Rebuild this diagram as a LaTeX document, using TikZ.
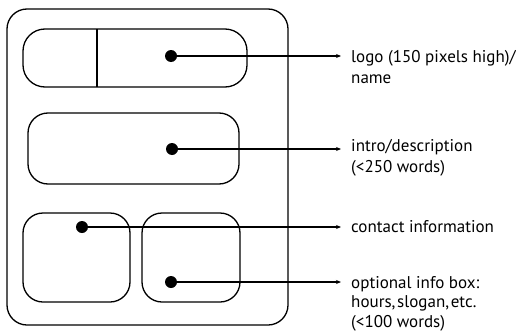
\documentclass[tikz,border=0pt]{standalone}
\usepackage{fontspec}
\setmainfont{PT Sans}
\usetikzlibrary{arrows.meta}
\begin{document}
\begin{tikzpicture}[x=1pt,y=-1pt,
  box/.style={draw, line width=1.3pt, rounded corners=#1, inner sep=0pt},
  dot/.style={circle, fill=black, minimum size=12pt, inner sep=0pt},
  conn/.style={line width=1.2pt, -{Stealth[length=5pt,width=4pt]}},
  lbl/.style={anchor=base west, align=left, inner sep=0pt, font=\fontsize{17}{21}\selectfont}]
\useasboundingbox (0,0) rectangle (516,332);
% outer
\node[box=20pt, minimum width=281pt, minimum height=316pt] (outer) at (147.5,167) {};
% top box
\node[box=22pt, minimum width=224pt, minimum height=58pt] (logo) at (135,58) {};
\draw[line width=1.3pt] (97,29) -- (97,87);
% intro box
\node[box=20pt, minimum width=211pt, minimum height=71pt] (intro) at (133.5,148.5) {};
% bottom boxes
\node[box=20pt, minimum width=107pt, minimum height=89pt] (contact) at (76.5,257.5) {};
\node[box=20pt, minimum width=98pt, minimum height=89pt] (opt) at (191,257.5) {};
% dots
\node[dot] (d1) at (171,56) {};
\node[dot] (d2) at (172,149) {};
\node[dot] (d3) at (82,227) {};
\node[dot] (d4) at (171,282) {};
% arrow ends
\coordinate (a1) at (341,56);
\coordinate (a2) at (341,149);
\coordinate (a3) at (341,227);
\coordinate (a4) at (341,282);
\draw[conn] (d1.center) -- (a1);
\draw[conn] (d2.center) -- (a2);
\draw[conn] (d3.center) -- (a3);
\draw[conn] (d4.center) -- (a4);
% labels (anchored at last line's baseline)
\node[lbl] (t1) at (351,83) {logo (150 pixels high)/\\name};
\node[lbl] (t2) at (351,172) {intro/description\\(<250 words)};
\node[lbl] (t3) at (351,232) {contact information};
\node[lbl, font=\fontsize{17}{19.5}\selectfont] (t4) at (351,327) {optional info box:\\hours,\kern0.1em slogan,\kern0.1em etc.\\(<100 words)};
\end{tikzpicture}
\end{document}
